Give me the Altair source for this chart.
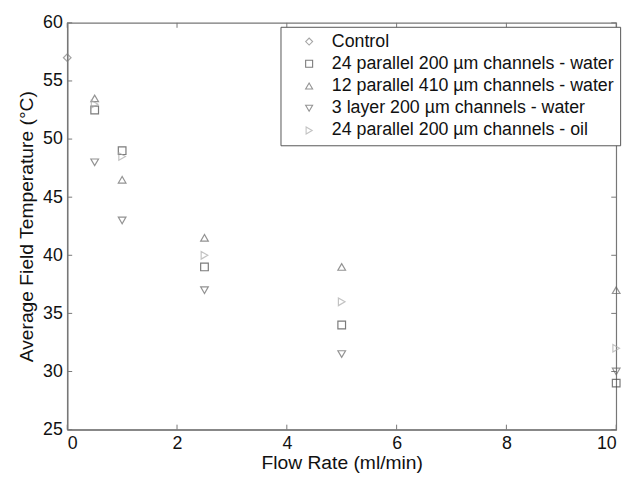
import altair as alt
import pandas as pd

series = [
    "Control",
    "24 parallel 200 \u00b5m channels - water",
    "12 parallel 410 \u00b5m channels - water",
    "3 layer 200 \u00b5m channels - water",
    "24 parallel 200 \u00b5m channels - oil",
]
shapes = ["diamond", "square", "triangle-up", "triangle-down", "triangle-right"]
colors = ["#808080", "#444444", "#666666", "#666666", "#aaaaaa"]

flow = [0.5, 1, 2.5, 5, 10]
control_x = [0]
control_y = [57]
sq_water = [52.5, 49, 39, 34, 29]
tri410 = [53.5, 46.5, 41.5, 39, 37]
layer3 = [48, 43, 37, 31.5, 30]
oil = [53, 48.5, 40, 36, 32]

x_ticks = [0, 2, 4, 6, 8, 10]
y_ticks = [25, 30, 35, 40, 45, 50, 55, 60]

rows = [{"x": x, "y": y, "s": series[0]} for x, y in zip(control_x, control_y)]
for name, vals in zip(series[1:], [sq_water, tri410, layer3, oil]):
    rows += [{"x": x, "y": y, "s": name} for x, y in zip(flow, vals)]
df = pd.DataFrame(rows)

W, H = 556, 412
FONT = "Liberation Sans"

xs = alt.Scale(domain=[0, 10], nice=False)
ys = alt.Scale(domain=[25, 60], nice=False)

leg = alt.Legend(title=None, orient="none", legendX=216, legendY=4,
                 strokeColor="#555555", fillColor="white",
                 padding=6, labelFontSize=18, labelFont=FONT,
                 labelColor="#111111", symbolSize=50,
                 symbolStrokeWidth=1.1, rowPadding=4.5,
                 labelLimit=400, labelOffset=14, symbolOffset=14)

pts = alt.Chart(df).mark_point(size=60, strokeWidth=1.2, filled=False).encode(
    x=alt.X("x:Q", scale=xs, title="Flow Rate (ml/min)",
            axis=alt.Axis(values=x_ticks, grid=False, tickSize=0, labelPadding=5,
                          domainColor="#777777", domainWidth=1.5)),
    y=alt.Y("y:Q", scale=ys, title="Average Field Temperature (\u00b0C)",
            axis=alt.Axis(values=y_ticks, grid=False, tickSize=0, labelPadding=5,
                          domainColor="#777777", domainWidth=1.5)),
    shape=alt.Shape("s:N", scale=alt.Scale(domain=series, range=shapes), legend=leg),
    color=alt.Color("s:N", scale=alt.Scale(domain=series, range=colors), legend=leg),
)

xt = pd.DataFrame({"v": x_ticks})
yt = pd.DataFrame({"v": y_ticks})
tick_col = "#777777"
xb = alt.Chart(xt).mark_rule(color=tick_col).encode(x=alt.X("v:Q", scale=xs), y=alt.value(H), y2=alt.value(H - 5))
xtop = alt.Chart(xt).mark_rule(color=tick_col).encode(x=alt.X("v:Q", scale=xs), y=alt.value(0), y2=alt.value(5))
yl = alt.Chart(yt).mark_rule(color=tick_col).encode(y=alt.Y("v:Q", scale=ys), x=alt.value(0), x2=alt.value(5))
yr = alt.Chart(yt).mark_rule(color=tick_col).encode(y=alt.Y("v:Q", scale=ys), x=alt.value(W), x2=alt.value(W - 5))

chart = alt.layer(xb, xtop, yl, yr, pts).properties(
    width=W, height=H,
    autosize=alt.AutoSizeParams(type="none"),
    padding={"left": 60, "top": 12, "right": 15, "bottom": 49},
).configure_view(stroke="#777777", strokeWidth=1.2).configure_axis(
    labelFont=FONT, titleFont=FONT, labelFontSize=18, titleFontSize=19.5,
    labelColor="#111111", titleColor="#111111", titleFontWeight="normal",
    labelFontWeight="normal",
).configure_axisY(titlePadding=6).configure_axisX(titlePadding=1)

chart.save("out.html", embed_options={"renderer": "svg", "actions": False})
